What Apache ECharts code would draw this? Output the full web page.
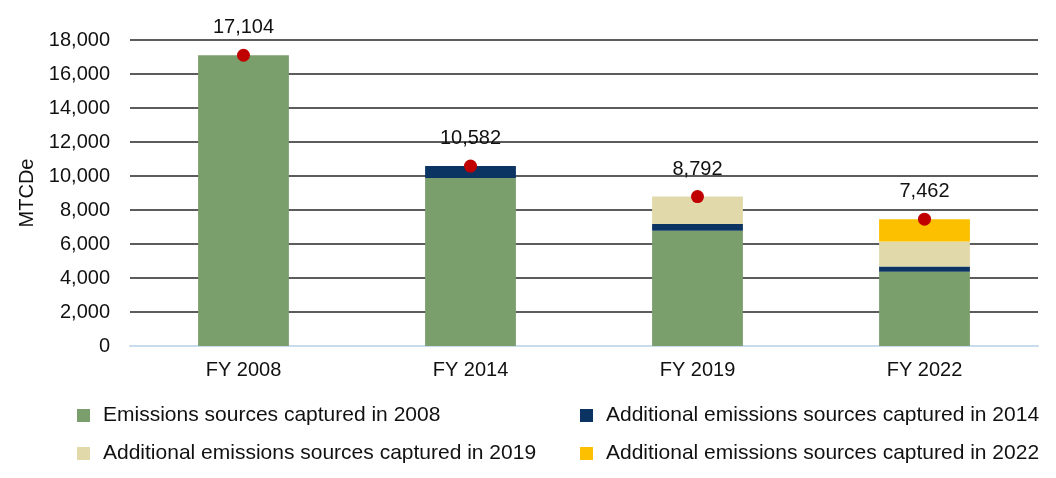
<!DOCTYPE html>
<html><head><meta charset="utf-8">
<script src="https://cdn.jsdelivr.net/npm/echarts@6/dist/echarts.min.js"></script>
<style>html,body{margin:0;padding:0;background:#fff}#c{width:1056px;height:478px}</style>
</head><body><div id="c"></div>
<script>
const categories = ['FY 2008','FY 2014','FY 2019','FY 2022'];
const captured2008 = [17104, 9880, 6780, 4372];
const added2014 = [0, 702, 400, 300];
const added2019 = [0, 0, 1612, 1470];
const added2022 = [0, 0, 0, 1320];
const totals = [17104, 10582, 8792, 7462];
const yTicks = {min: 0, max: 18000, interval: 2000};

const font = 'Liberation Sans, Arial, sans-serif';
const fs = 20;
const chart = echarts.init(document.getElementById('c'));
const barBase = {type: 'bar', stack: 'e', barWidth: '40%', emphasis: {disabled: true}};
const legendText = {fontSize: 21, lineHeight: 21, color: '#111', fontFamily: font, padding: [0, 0, 0, 8]};
chart.setOption({
  animation: false,
  textStyle: {fontFamily: font},
  grid: {left: 130, right: 18, top: 40, bottom: 132},
  legend: [
    {left: 77, top: 405, padding: 0, orient: 'vertical', itemGap: 17, itemWidth: 13, itemHeight: 13,
     icon: 'rect', textStyle: legendText,
     data: ['Emissions sources captured in 2008', 'Additional emissions sources captured in 2019']},
    {left: 580, top: 405, padding: 0, orient: 'vertical', itemGap: 17, itemWidth: 13, itemHeight: 13,
     icon: 'rect', textStyle: legendText,
     data: ['Additional emissions sources captured in 2014', 'Additional emissions sources captured in 2022']}
  ],
  xAxis: {
    type: 'category', data: categories,
    axisLine: {lineStyle: {color: '#c8dcee', width: 2}},
    axisTick: {show: false},
    axisLabel: {fontSize: fs, color: '#111', margin: 14, fontFamily: font}
  },
  yAxis: {
    type: 'value', min: yTicks.min, max: yTicks.max, interval: yTicks.interval,
    name: 'MTCDe', nameLocation: 'middle', nameGap: 92,
    nameTextStyle: {fontSize: fs, color: '#111', fontFamily: font},
    axisLabel: {fontSize: fs, color: '#111', margin: 20, fontFamily: font,
      formatter: v => v.toLocaleString('en-US')},
    splitLine: {lineStyle: {color: '#262626', width: 1.5}}
  },
  series: [
    Object.assign({}, barBase, {name: 'Emissions sources captured in 2008', data: captured2008, itemStyle: {color: '#7b9e6d'}}),
    Object.assign({}, barBase, {name: 'Additional emissions sources captured in 2014', data: added2014, itemStyle: {color: '#0c3463'}}),
    Object.assign({}, barBase, {name: 'Additional emissions sources captured in 2019', data: added2019, itemStyle: {color: '#e2d9ab'}}),
    Object.assign({}, barBase, {name: 'Additional emissions sources captured in 2022', data: added2022, itemStyle: {color: '#fdc000'}}),
    {type: 'scatter', name: 'Total', data: totals, symbolSize: 13, itemStyle: {color: '#c00000', opacity: 1},
     z: 10, emphasis: {disabled: true},
     label: {show: true, position: 'top', distance: 11, fontSize: fs, color: '#111', fontFamily: font,
       formatter: p => p.value.toLocaleString('en-US')}}
  ]
});
</script></body></html>
